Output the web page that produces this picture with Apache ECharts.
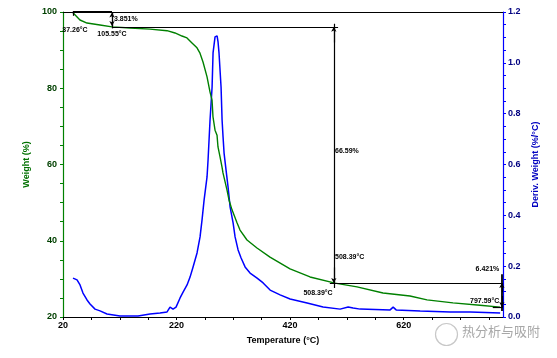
<!DOCTYPE html>
<html><head><meta charset="utf-8">
<script src="https://cdn.jsdelivr.net/npm/echarts@6/dist/echarts.min.js"></script>
<style>html,body{margin:0;padding:0;background:#fff}#c{width:557px;height:358px}</style>
</head><body><div id="c"></div>
<script>
// TG curve (Weight %, left axis)
const tgTemp = [37.6, 49.9, 62.3, 85.2, 106.3, 138.0, 173.3, 203.2, 217.3, 229.6, 238.4, 247.2, 256.0, 261.3, 266.6, 273.7, 279.0, 282.5, 284.2, 287.8, 291.3, 293.0, 296.6, 300.1, 301.8, 308.9, 312.4, 317.7, 326.5, 331.8, 344.1, 361.7, 384.6, 419.9, 455.1, 499.1, 537.9, 583.7, 631.2, 661.2, 706.9, 754.5, 789.7];
const tgWeight = [99.8, 97.9, 97.1, 96.6, 96.1, 95.8, 95.5, 95.1, 94.5, 93.7, 93.2, 91.9, 90.6, 89.2, 86.9, 83.0, 79.0, 76.9, 72.5, 69.0, 67.7, 64.6, 62.0, 59.3, 57.8, 53.3, 50.7, 48.1, 44.7, 42.8, 40.2, 38.1, 35.7, 32.6, 30.5, 28.9, 27.9, 26.3, 25.5, 24.5, 23.7, 23.1, 22.6];
// DTG curve (Deriv. Weight %/°C, right axis)
const dtgTemp = [37.6, 44.7, 50.0, 55.2, 62.3, 67.6, 76.4, 85.2, 97.5, 120.4, 152.2, 173.3, 190.9, 203.3, 208.5, 213.8, 219.1, 226.2, 231.5, 238.5, 243.8, 249.1, 256.1, 261.4, 264.9, 268.5, 273.7, 275.5, 279.0, 282.6, 284.3, 287.8, 291.4, 293.1, 294.8, 298.4, 300.2, 301.9, 303.7, 307.2, 310.7, 314.3, 319.6, 323.1, 328.4, 333.7, 340.7, 349.5, 361.9, 372.5, 384.8, 402.4, 420.0, 450.0, 478.1, 508.1, 522.2, 531.0, 543.4, 596.2, 601.5, 606.8, 649.1, 702.0, 737.2, 790.0];
const dtgDeriv = [0.153, 0.146, 0.126, 0.094, 0.067, 0.051, 0.031, 0.024, 0.012, 0.004, 0.004, 0.012, 0.016, 0.020, 0.039, 0.031, 0.039, 0.075, 0.098, 0.126, 0.157, 0.197, 0.252, 0.315, 0.382, 0.460, 0.551, 0.618, 0.775, 0.905, 1.039, 1.102, 1.106, 1.082, 1.039, 0.905, 0.775, 0.709, 0.645, 0.578, 0.512, 0.433, 0.370, 0.315, 0.264, 0.232, 0.197, 0.173, 0.153, 0.134, 0.106, 0.087, 0.071, 0.055, 0.039, 0.031, 0.039, 0.035, 0.031, 0.028, 0.039, 0.028, 0.024, 0.020, 0.020, 0.016];
// axis ticks / labels
const xTickValues = [20, 70, 120, 170, 220, 270, 320, 370, 420, 470, 520, 570, 620, 670, 720, 770];
const xLabelValues = [20, 220, 420, 620];
const wTickValues = [20, 25, 30, 35, 40, 45, 50, 55, 60, 65, 70, 75, 80, 85, 90, 95, 100];
const wLabelValues = [20, 40, 60, 80, 100];
const dTickValues = [0, 0.05, 0.1, 0.15, 0.2, 0.25, 0.3, 0.35, 0.4, 0.45, 0.5, 0.55, 0.6, 0.65, 0.7, 0.75, 0.8, 0.85, 0.9, 0.95, 1.0, 1.05, 1.1, 1.15, 1.2];
const dLabelValues = [0, 0.2, 0.4, 0.6, 0.8, 1.0, 1.2];
// step analysis markers (temperature, weight levels) and their texts
const stepTemps = [37.3, 106.3, 497, 793];
const stepWeights = [100, 96.1, 28.9, 22.6];
const stepTexts = ['37.26°C', '105.55°C', '3.851%', '66.59%', '508.39°C', '508.39°C', '6.421%', '797.59°C'];

const X_MIN = 20, X_MAX = 795;
const T = stepTemps, W = stepWeights;
const F = 'Arial, "Liberation Sans", sans-serif';

function seg(a, b, opt) {
  const p1 = { coord: a, symbol: 'none' };
  const p2 = { coord: b, symbol: opt && opt.arrow ? 'arrow' : 'none', symbolSize: [4, 5] };
  const item = [p1, p2];
  if (opt && opt.width) { p1.lineStyle = { width: opt.width, color: '#000', type: 'solid' }; }
  return item;
}
const markLines = [
  seg([T[0], W[0]], [T[1], W[0]], { width: 2.2 }),
  seg([T[0], 100], [T[0], 99.0]),
  seg([T[1], 100], [T[1], 95.7]),
  seg([T[1], W[1]], [504.5, W[1]]),
  seg([T[2], 96.9], [T[2], 27.6]),
  seg([490, W[2]], [X_MAX, W[2]]),
  seg([T[3], 31.2], [T[3], 21.6], { width: 1.8 }),
  seg([777, W[3]], [X_MAX, W[3]]),
  seg([T[1], 98.2], [T[1], 99.9], { arrow: true }),
  seg([T[1], 98.0], [T[1], W[1] + 0.2], { arrow: true }),
  seg([T[2], 92], [T[2], W[1]], { arrow: true }),
  seg([T[2], 33], [T[2], W[2]], { arrow: true }),
  seg([T[3], 26.5], [T[3], W[2]], { arrow: true }),
  seg([T[3], 25.5], [T[3], W[3]], { arrow: true })
];
function lab(text, coord, pos) {
  return { coord: coord, value: text, symbol: 'circle', symbolSize: 0,
    label: { show: true, position: pos, distance: 0, formatter: text, color: '#000', fontSize: 7, fontWeight: 'bold', fontFamily: F } };
}
const markPoints = [
  lab(stepTexts[0], [41.1, 95.3], 'inside'),
  lab(stepTexts[1], [106.3, 94.2], 'inside'),
  lab(stepTexts[2], [109.8, 98.2], 'right'),
  lab(stepTexts[3], [499.1, 63.5], 'right'),
  lab(stepTexts[4], [499.1, 35.7], 'right'),
  lab(stepTexts[5], [469.2, 26.3], 'inside'),
  lab(stepTexts[6], [788.5, 32.6], 'left'),
  lab(stepTexts[7], [737, 24.2], 'right')
];

const chart = echarts.init(document.getElementById('c'), null, { renderer: 'canvas' });
chart.setOption({
  animation: false,
  backgroundColor: '#fff',
  grid: { left: 63, right: 54, top: 12, bottom: 41, outerBoundsMode: 'none' },
  xAxis: [{
    type: 'value', min: X_MIN, max: X_MAX, position: 'bottom',
    name: 'Temperature (°C)', nameLocation: 'middle', nameGap: 19,
    nameTextStyle: { color: '#000', fontSize: 9, fontWeight: 'bold', fontFamily: F },
    axisLine: { show: true, lineStyle: { color: '#000', width: 1.2 } },
    axisTick: { show: true, length: 3, customValues: xTickValues, lineStyle: { color: '#000' } },
    axisLabel: { customValues: xLabelValues, margin: 4, color: '#000', fontSize: 9, fontWeight: 'bold', fontFamily: F },
    splitLine: { show: false }
  }, {
    type: 'value', min: X_MIN, max: X_MAX, position: 'top',
    axisLine: { show: true, lineStyle: { color: '#000', width: 1.2 } },
    axisTick: { show: false }, axisLabel: { show: false }, splitLine: { show: false }
  }],
  yAxis: [{
    type: 'value', min: 20, max: 100, position: 'left',
    name: 'Weight (%)', nameLocation: 'middle', nameGap: 31, nameRotate: 90,
    nameTextStyle: { color: '#007000', fontSize: 9, fontWeight: 'bold', fontFamily: F },
    axisLine: { show: true, lineStyle: { color: '#008000', width: 1.2 } },
    axisTick: { show: true, length: 3, customValues: wTickValues, lineStyle: { color: '#008000' } },
    axisLabel: { customValues: wLabelValues, margin: 6, color: '#004000', fontSize: 9, fontWeight: 'bold', fontFamily: F },
    splitLine: { show: false }
  }, {
    type: 'value', min: 0, max: 1.2, position: 'right',
    name: 'Deriv. Weight (%/°C)', nameLocation: 'middle', nameGap: 22, nameRotate: 90,
    nameTextStyle: { color: '#0000c0', fontSize: 9, fontWeight: 'bold', fontFamily: F },
    axisLine: { show: true, lineStyle: { color: '#0000ff', width: 1.2 } },
    axisTick: { show: true, length: 3, customValues: dTickValues, lineStyle: { color: '#0000ff' } },
    axisLabel: { customValues: dLabelValues, margin: 5, color: '#000080', fontSize: 9, fontWeight: 'bold', fontFamily: F,
      formatter: v => v.toFixed(1) },
    splitLine: { show: false }
  }],
  series: [{
    type: 'line', name: 'Weight', xAxisIndex: 0, yAxisIndex: 0,
    data: tgTemp.map((t, i) => [t, tgWeight[i]]),
    showSymbol: false, symbol: 'none', smooth: false,
    lineStyle: { color: '#008000', width: 1.4 }, z: 3,
    markLine: { silent: true, symbol: 'none', animation: false,
      label: { show: false }, lineStyle: { color: '#000', width: 1.2, type: 'solid' },
      emphasis: { disabled: true }, data: markLines },
    markPoint: { silent: true, animation: false, data: markPoints }
  }, {
    type: 'line', name: 'Deriv. Weight', xAxisIndex: 0, yAxisIndex: 1,
    data: dtgTemp.map((t, i) => [t, dtgDeriv[i]]),
    showSymbol: false, symbol: 'none', smooth: false,
    lineStyle: { color: '#0000ff', width: 1.5 }, z: 2
  }],
  graphic: [{
    type: 'circle', left: 433, top: 321, shape: { r: 11 },
    style: { fill: 'none', stroke: '#c8c8c8', lineWidth: 1.2 }, silent: true
  }, {
    type: 'text', left: 462, top: 325,
    style: { text: '热分析与吸附', fill: '#a8a8a8', fontSize: 13, fontFamily: '"Noto Sans CJK SC", sans-serif' }, silent: true
  }]
});
</script></body></html>
